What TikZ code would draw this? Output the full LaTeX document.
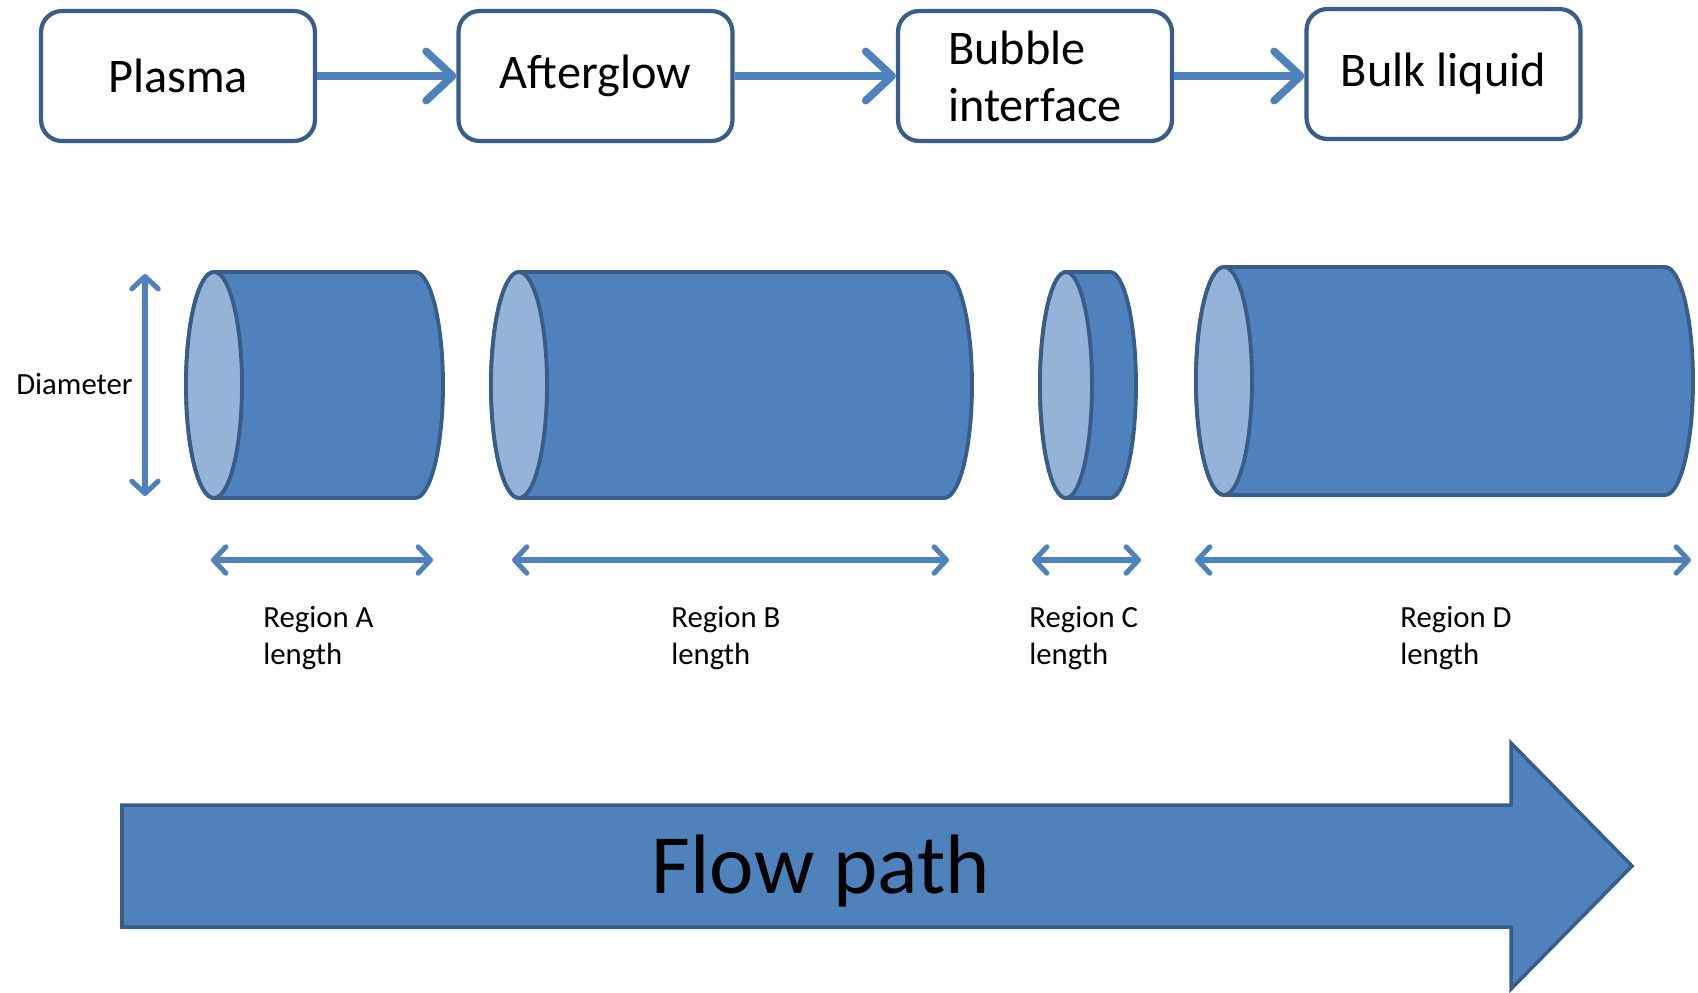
\documentclass[tikz,border=0pt]{standalone}
\usepackage{fontspec}
\setmainfont{Carlito}
\usetikzlibrary{arrows.meta}
\definecolor{tubeblue}{HTML}{4F81BD}
\definecolor{tubeedge}{HTML}{385D8A}
\definecolor{tubelight}{HTML}{95B3D7}
% one drawing unit = one pixel of a 1698 x 992 canvas, y running downwards as negative values
\newcommand\drawtube[5]{% left centre x, right centre x, centre y, x radius, y radius
  \filldraw[tubebody] (#1,#3+#5) -- (#2,#3+#5)
    arc[start angle=90,end angle=-90,x radius=#4,y radius=#5]
    -- (#1,#3-#5)
    arc[start angle=270,end angle=90,x radius=#4,y radius=#5] -- cycle;
  \filldraw[tubeface] (#1,#3) ellipse[x radius=#4,y radius=#5];
}
\tikzset{
  stagebox/.style={draw=tubeedge, line width=2.4pt, rounded corners=0.42cm, fill=white,
    minimum width=5.48cm, minimum height=2.6cm, inner sep=0pt,
    font=\fontsize{27.5}{32.5}\selectfont, align=left},
  stagelink/.style={draw=tubeblue, line width=4.4pt,
    -{Straight Barb[length=15pt,width=28pt,line cap=round,line join=round]}},
  measure/.style={draw=tubeblue, line width=2.9pt,
    {Straight Barb[length=7pt,width=15pt,line cap=round,line join=round]}-{Straight Barb[length=7pt,width=15pt,line cap=round,line join=round]}},
  tubebody/.style={fill=tubeblue, draw=tubeedge, line width=2.2pt, line join=round},
  tubeface/.style={fill=tubelight, draw=tubeedge, line width=2.2pt},
  smalltext/.style={font=\fontsize{17.5}{21.5}\selectfont, align=left, inner sep=0pt},
  flowarrow/.style={fill=tubeblue, draw=tubeedge, line width=2pt, line join=miter},
}
\begin{document}
\begin{tikzpicture}[x=0.02cm,y=0.02cm]
\useasboundingbox (0,0) rectangle (1698,-992);

% stages of the flow
\node[stagebox] (plasma) at (178,-76) {Plasma};
\node[stagebox] (after) at (595.5,-76) {Afterglow};
\node[stagebox] (bubble) at (1035,-76) {Bubble\\interface};
\node[stagebox] (bulk) at (1443.5,-74) {Bulk liquid};

\draw[stagelink] (plasma.east) -- (after.west);
\draw[stagelink] (after.east) -- (bubble.west);
\draw[stagelink] (bubble.east) -- (bubble.east -| bulk.west);

% the four regions as cylinders
\drawtube{214}{415}{-385}{28}{113}
\drawtube{519}{944}{-385}{28}{113}
\drawtube{1066}{1110}{-385}{26}{113}
\drawtube{1224}{1665}{-381}{28}{114}

% diameter
\coordinate (dtop) at (145,-274);
\coordinate (dbot) at (145,-496);
\draw[measure] (dtop) -- (dbot);
\node[smalltext, anchor=east] (diam) at (133,-384) {Diameter};

% region lengths
\coordinate (aL) at (211,-560);  \coordinate (aR) at (433,-560);
\coordinate (bL) at (512,-560);  \coordinate (bR) at (949,-560);
\coordinate (cL) at (1032,-560); \coordinate (cR) at (1141,-560);
\coordinate (dL) at (1195,-560); \coordinate (dR) at (1691,-560);
\draw[measure] (aL) -- (aR);
\draw[measure] (bL) -- (bR);
\draw[measure] (cL) -- (cR);
\draw[measure] (dL) -- (dR);

\node[smalltext, anchor=west] (labA) at (263,-638) {Region A\\length};
\node[smalltext, anchor=west] (labB) at (671,-638) {Region B\\length};
\node[smalltext, anchor=west] (labC) at (1029,-638) {Region C\\length};
\node[smalltext, anchor=west] (labD) at (1400,-638) {Region D\\length};

% flow direction
\filldraw[flowarrow] (122,-805) -- (1511,-805) -- (1511,-743) -- (1632,-866)
  -- (1511,-989) -- (1511,-927) -- (122,-927) -- cycle;
\node[font=\fontsize{48}{56}\selectfont, inner sep=0pt] (flow) at (821,-871) {Flow path};
\end{tikzpicture}
\end{document}
